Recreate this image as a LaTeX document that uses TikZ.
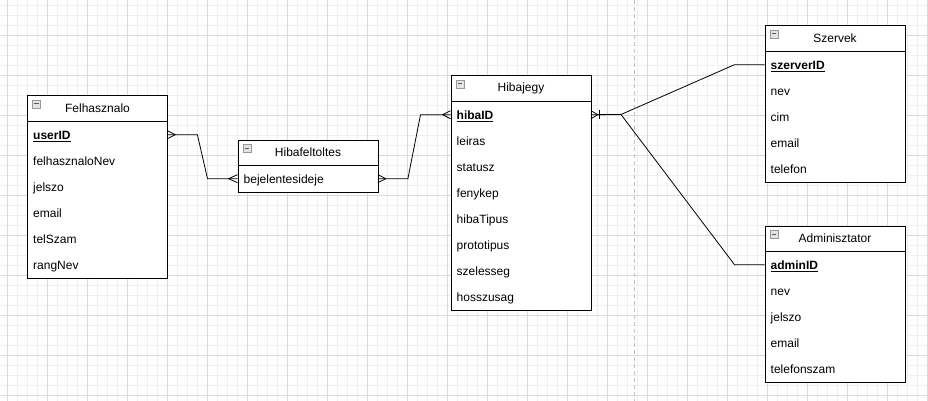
\documentclass[tikz,border=0pt]{standalone}
\usepackage{fontspec}
\setmainfont{Liberation Sans}
\definecolor{minorgrid}{RGB}{240,240,240}
\definecolor{majorgrid}{RGB}{218,218,218}
\definecolor{pageline}{RGB}{195,195,195}
\tikzset{
  ebox/.style={draw=black, fill=white, line width=1pt, anchor=north west, inner sep=0pt, minimum width=140pt},
  sepline/.style={draw=black, line width=1pt},
  etitle/.style={inner sep=0pt, font=\fontsize{12}{14}\selectfont},
  erow/.style={anchor=north west, inner xsep=6pt, inner ysep=0pt, minimum height=26pt,
    text width=128pt, align=left, text height=10.5pt, text depth=1pt, font=\fontsize{12}{14}\selectfont},
  micon/.style={draw=gray!80, fill=gray!22, minimum size=8pt, inner sep=0pt,
    path picture={\draw[line width=1pt, black!65] ([xshift=-2.4pt]path picture bounding box.center) -- ([xshift=2.4pt]path picture bounding box.center);}},
  conn/.style={draw=black, line width=0.8pt},
  mingrid/.style={draw=minorgrid, line width=0.7pt},
  majgrid/.style={draw=majorgrid, line width=0.7pt},
}
\newcommand{\pk}[1]{\underline{\textbf{#1}}}
\begin{document}
\begin{tikzpicture}[x=1pt, y=-1pt]
\useasboundingbox (0,0) rectangle (928,401);
\fill[white] (0,0) rectangle (928,401);
% grid
\foreach \x in {7,17,...,927} \draw[mingrid] (\x,0) -- (\x,401);
\foreach \y in {5,15,...,395} \draw[mingrid] (0,\y) -- (928,\y);
\foreach \x in {7,47,...,927} \draw[majgrid] (\x,0) -- (\x,401);
\foreach \y in {35,75,...,395} \draw[majgrid] (0,\y) -- (928,\y);
\draw[pageline, line width=0.8pt, dash pattern=on 4pt off 3pt] (634,0) -- (634,401);

% Felhasznalo
\node[ebox, minimum height=182pt] (fel) at (27,95.5) {};
\draw[sepline] ([yshift=-26pt]fel.north west) -- ([yshift=-26pt]fel.north east);
\node[etitle] (felT) at ([yshift=-13pt]fel.north) {Felhasznalo};
\node[micon] (felM) at ([xshift=9.5pt,yshift=-8.5pt]fel.north west) {};
\node[erow] (userID) at (27,121.5) {\pk{userID}};
\node[erow] (felNev) at (27,147.5) {felhasznaloNev};
\node[erow] (felJel) at (27,173.5) {jelszo};
\node[erow] (felEm) at (27,199.5) {email};
\node[erow] (felTel) at (27,225.5) {telSzam};
\node[erow] (felRang) at (27,251.5) {rangNev};

% Hibafeltoltes
\node[ebox, minimum height=52pt] (hf) at (237.5,139.5) {};
\draw[sepline] ([yshift=-26pt]hf.north west) -- ([yshift=-26pt]hf.north east);
\node[etitle] (hfT) at ([yshift=-13pt]hf.north) {Hibafeltoltes};
\node[micon] (hfM) at ([xshift=9.5pt,yshift=-8.5pt]hf.north west) {};
\node[erow] (bejel) at (237.5,165.5) {bejelentesideje};

% Hibajegy
\node[ebox, minimum height=234pt] (hj) at (450.5,75.5) {};
\draw[sepline] ([yshift=-26pt]hj.north west) -- ([yshift=-26pt]hj.north east);
\node[etitle] (hjT) at ([yshift=-13pt]hj.north) {Hibajegy};
\node[micon] (hjM) at ([xshift=9.5pt,yshift=-8.5pt]hj.north west) {};
\node[erow] (hibaID) at (450.5,101.5) {\pk{hibaID}};
\node[erow] (hjLe) at (450.5,127.5) {leiras};
\node[erow] (hjSt) at (450.5,153.5) {statusz};
\node[erow] (hjFe) at (450.5,179.5) {fenykep};
\node[erow] (hjTi) at (450.5,205.5) {hibaTipus};
\node[erow] (hjPr) at (450.5,231.5) {prototipus};
\node[erow] (hjSz) at (450.5,257.5) {szelesseg};
\node[erow] (hjHo) at (450.5,283.5) {hosszusag};

% Szervek
\node[ebox, minimum height=156pt] (sz) at (764.5,25.5) {};
\draw[sepline] ([yshift=-26pt]sz.north west) -- ([yshift=-26pt]sz.north east);
\node[etitle] (szT) at ([yshift=-13pt]sz.north) {Szervek};
\node[micon] (szM) at ([xshift=9.5pt,yshift=-8.5pt]sz.north west) {};
\node[erow] (szerverID) at (764.5,51.5) {\pk{szerverID}};
\node[erow] (szNev) at (764.5,77.5) {nev};
\node[erow] (szCim) at (764.5,103.5) {cim};
\node[erow] (szEm) at (764.5,129.5) {email};
\node[erow] (szTel) at (764.5,155.5) {telefon};

% Adminisztator
\node[ebox, minimum height=156pt] (ad) at (764.5,225.5) {};
\draw[sepline] ([yshift=-26pt]ad.north west) -- ([yshift=-26pt]ad.north east);
\node[etitle] (adT) at ([yshift=-13pt]ad.north) {Adminisztator};
\node[micon] (adM) at ([xshift=9.5pt,yshift=-8.5pt]ad.north west) {};
\node[erow] (adminID) at (764.5,251.5) {\pk{adminID}};
\node[erow] (adNev) at (764.5,277.5) {nev};
\node[erow] (adJel) at (764.5,303.5) {jelszo};
\node[erow] (adEm) at (764.5,329.5) {email};
\node[erow] (adTel) at (764.5,355.5) {telefonszam};

% connectors
\draw[conn] (userID.east) -- ++(30,0) -- ([xshift=-30pt]bejel.west) -- (bejel.west);
\draw[conn] ([xshift=8pt]userID.east) -- ([yshift=4pt]userID.east)
            ([xshift=8pt]userID.east) -- ([yshift=-4pt]userID.east);
\draw[conn] ([xshift=-9pt]bejel.west) -- ([yshift=4pt]bejel.west)
            ([xshift=-9pt]bejel.west) -- ([yshift=-4pt]bejel.west);

\draw[conn] (bejel.east) -- ++(30,0) -- ([xshift=-30pt]hibaID.west) -- (hibaID.west);
\draw[conn] ([xshift=8pt]bejel.east) -- ([yshift=4pt]bejel.east)
            ([xshift=8pt]bejel.east) -- ([yshift=-4pt]bejel.east);
\draw[conn] ([xshift=-8pt]hibaID.west) -- ([yshift=4pt]hibaID.west)
            ([xshift=-8pt]hibaID.west) -- ([yshift=-4pt]hibaID.west);

\coordinate (j) at (621,114.5);
\draw[conn] (hibaID.east) -- (j);
\draw[conn] ([xshift=7pt]hibaID.east) -- ([yshift=4pt]hibaID.east)
            ([xshift=7pt]hibaID.east) -- ([yshift=-4pt]hibaID.east);
\draw[conn] ([xshift=8pt,yshift=4.5pt]hibaID.east) -- ([xshift=8pt,yshift=-4.5pt]hibaID.east);
\draw[conn] (j) -- ([xshift=-30pt]szerverID.west) -- (szerverID.west);
\draw[conn] (j) -- ([xshift=-30pt]adminID.west) -- (adminID.west);
\end{tikzpicture}
\end{document}
